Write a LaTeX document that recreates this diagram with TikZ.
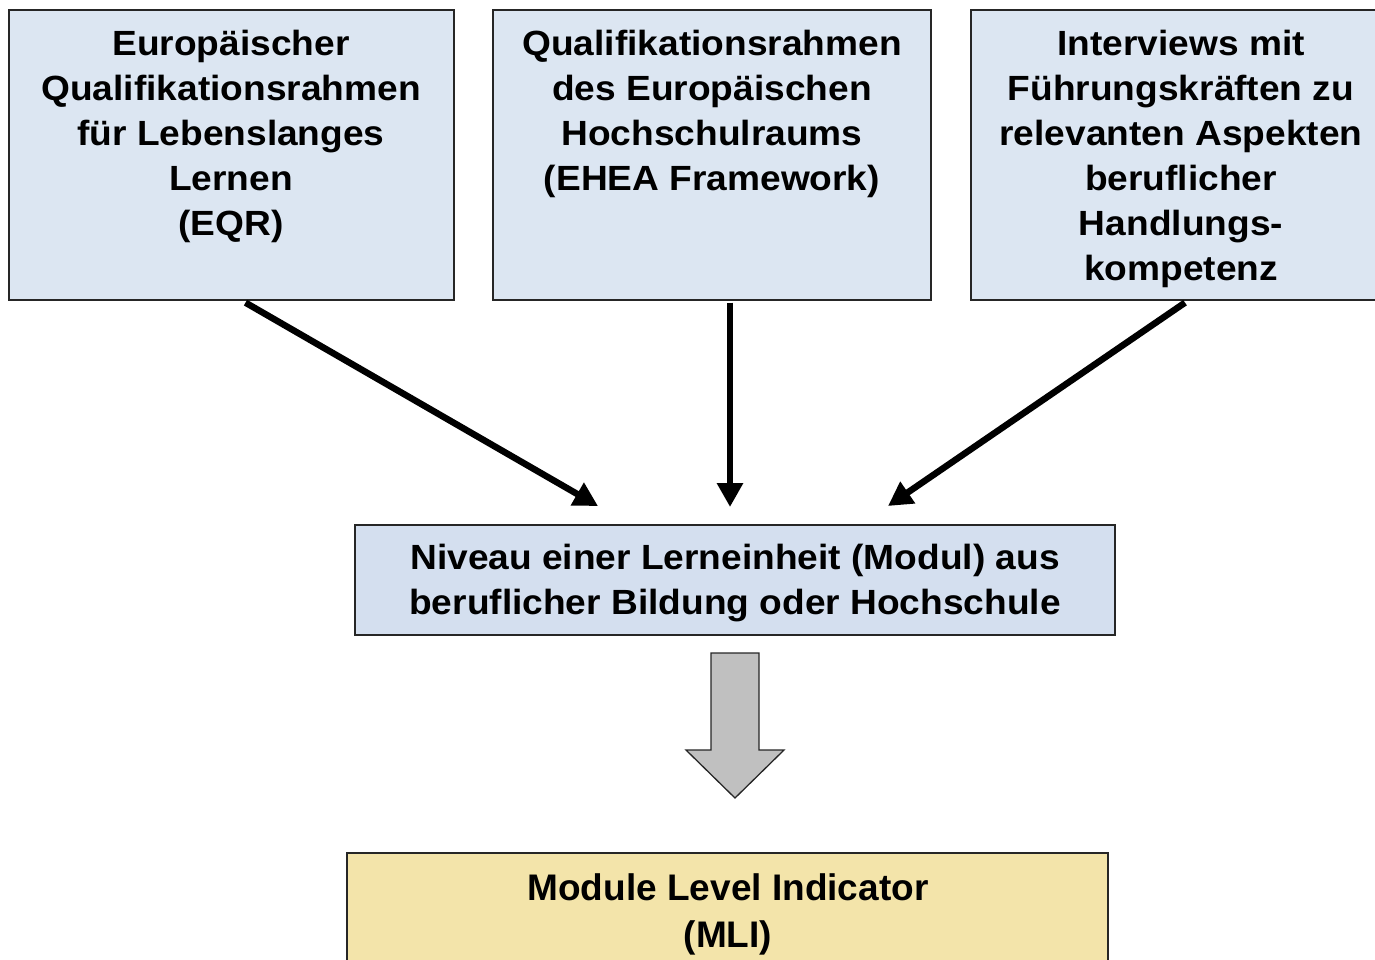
\documentclass[tikz,border=0pt]{standalone}
\usepackage{fontspec}
\setmainfont{Liberation Sans}
\newfontfamily\widefont{Liberation Sans}[FakeStretch=1.06]
\usetikzlibrary{arrows.meta,calc}
\definecolor{topblue}{RGB}{220,230,242}
\definecolor{midblue}{RGB}{212,223,239}
\definecolor{mliyellow}{RGB}{243,228,170}
\definecolor{blockgray}{RGB}{192,192,192}
\newcommand\hstrutA{\rule{0pt}{32pt}}
\newcommand\hstrutB{\rule{0pt}{34pt}}
\tikzset{
  boxnode/.style={draw=black!85, line width=1.3pt, inner sep=0pt},
  txt/.style={anchor=north, inner sep=0pt, align=center,
    font=\widefont\bfseries\fontsize{35}{45}\selectfont},
  txtbig/.style={anchor=north, inner sep=0pt, align=center,
    font=\bfseries\fontsize{37}{47}\selectfont},
  conn/.style={line width=6.5pt, -{Triangle[length=24pt,width=25pt]}}
}
\begin{document}
\begin{tikzpicture}[x=1pt,y=-1pt]
\useasboundingbox (0,0) rectangle (1375,959);
% boxes
\node[boxnode, fill=topblue, minimum width=445pt, minimum height=290pt] (eqr) at (231.5,155) {};
\node[boxnode, fill=topblue, minimum width=438pt, minimum height=290pt] (ehea) at (712,155) {};
\node[boxnode, fill=topblue, minimum width=440pt, minimum height=290pt] (intv) at (1191,155) {};
\node[boxnode, fill=midblue, minimum width=760pt, minimum height=110pt] (niv) at (735,580) {};
\node[boxnode, fill=mliyellow, minimum width=761pt, minimum height=160pt] (mli) at (727.5,933) {};
% texts
\node[txt] (eqrt) at (231,23) {\hstrutA Europäischer\\Qualifikationsrahmen\\für Lebenslanges\\Lernen\\(EQR)};
\node[txt] (eheat) at (712,23) {\hstrutA Qualifikationsrahmen\\des Europäischen\\Hochschulraums\\(EHEA Framework)};
\node[txt] (intvt) at (1181,23) {\hstrutA Interviews mit\\Führungskräften zu\\relevanten Aspekten\\beruflicher\\Handlungs-\\kompetenz};
\node[txt] (nivt) at (735,537) {\hstrutA Niveau einer Lerneinheit (Modul) aus\\beruflicher Bildung oder Hochschule};
\node[txtbig] (mlit) at (728,866) {\hstrutB Module Level Indicator\\(MLI)};
% arrow ends
\coordinate (e1) at (598,506);
\coordinate (e2) at (730,507);
\coordinate (e3) at (888,506);
\draw[conn] ($(eqr.south)+(14,2)$) -- (e1);
\draw[conn] ($(ehea.south)+(18,2)$) -- (e2);
\draw[conn] ($(intv.south)+(-6,2)$) -- (e3);
% block arrow
\filldraw[fill=blockgray, draw=black!85, line width=1.3pt, line join=miter]
  (711,653) -- (759,653) -- (759,750) -- (784,750) -- (735,798)
  -- (686,750) -- (711,750) -- cycle;
\end{tikzpicture}
\end{document}
